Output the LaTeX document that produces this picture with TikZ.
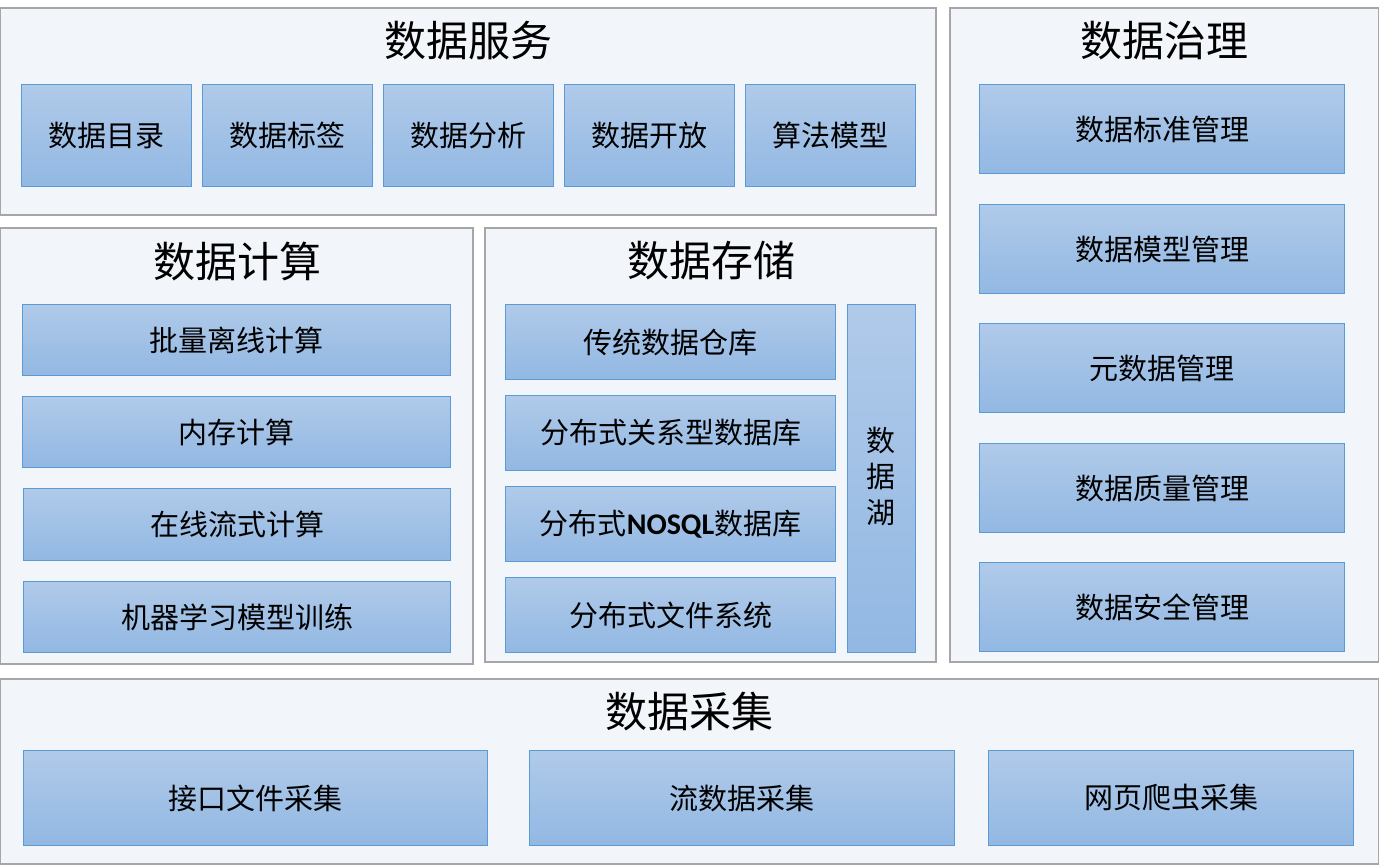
\documentclass[tikz,border=0pt]{standalone}
\usepackage{fontspec}
\setmainfont{Noto Sans CJK SC}
\newfontfamily\calfont{Carlito}
\begin{document}
\begin{tikzpicture}[x=1pt,y=-1pt,
  panel/.style={draw=panelborder,fill=panelfill,line width=1.2pt},
  box/.style={draw=boxborder,line width=1pt,top color=boxtop,bottom color=boxbottom,
    inner sep=0pt,font=\fontsize{29}{32}\selectfont,text=black},
  ttl/.style={font=\fontsize{42}{46}\selectfont,text=black,inner sep=0pt}]
\definecolor{panelborder}{HTML}{A6A6A6}
\definecolor{panelfill}{HTML}{F2F6FA}
\definecolor{boxborder}{HTML}{5B9BD5}
\definecolor{boxtop}{HTML}{B0CAE9}
\definecolor{boxbottom}{HTML}{92B8E3}
\useasboundingbox[fill=white] (0,0) rectangle (1379,865);
% panels
\draw[panel] (0.6,8) rectangle (936,215);
\draw[panel] (950,8) rectangle (1378.4,662);
\draw[panel] (0.6,228) rectangle (473,664);
\draw[panel] (485,228) rectangle (936,662);
\draw[panel] (0.6,679) rectangle (1378.4,864);
% titles
\node[ttl] (tService) at (468,41) {数据服务};
\node[ttl] (tGov) at (1164,41) {数据治理};
\node[ttl] (tComp) at (237,261) {数据计算};
\node[ttl] (tStore) at (711,261) {数据存储};
\node[ttl] (tColl) at (689,712) {数据采集};
% service boxes
\foreach \n/\x/\t in {s1/21/数据目录,s2/202/数据标签,s3/383/数据分析,s4/564/数据开放,s5/745/算法模型}{
  \node[box,anchor=north west,minimum width=170,minimum height=102] (\n) at (\x,84) {\t};
}
% governance
\foreach \n/\y/\t in {g1/84/数据标准管理,g2/204/数据模型管理,g3/323/元数据管理,g4/443/数据质量管理,g5/562/数据安全管理}{
  \node[box,anchor=north west,minimum width=365,minimum height=89] (\n) at (979,\y) {\t};
}
% compute
\node[box,anchor=north west,minimum width=428,minimum height=71] (c1) at (21.5,304) {批量离线计算};
\node[box,anchor=north west,minimum width=428,minimum height=71] (c2) at (22,396) {内存计算};
\node[box,anchor=north west,minimum width=427,minimum height=72] (c3) at (23,488) {在线流式计算};
\node[box,anchor=north west,minimum width=427,minimum height=71] (c4) at (23,581) {机器学习模型训练};
% storage
\node[box,anchor=north west,minimum width=330,minimum height=75] (st1) at (505,304) {传统数据仓库};
\node[box,anchor=north west,minimum width=330,minimum height=75] (st2) at (505,395) {分布式关系型数据库};
\node[box,anchor=north west,minimum width=330,minimum height=75] (st3) at (505,486) {分布式{\calfont\bfseries\fontsize{30}{32}\selectfont NOSQL}数据库};
\node[box,anchor=north west,minimum width=330,minimum height=75] (st4) at (505,577) {分布式文件系统};
\node[box,anchor=north west,minimum width=68,minimum height=348] (lake) at (847,304) {};
\node[font=\fontsize{29}{32}\selectfont,inner sep=0pt] (lk1) at (881,441) {数};
\node[font=\fontsize{29}{32}\selectfont,inner sep=0pt] (lk2) at (881,477) {据};
\node[font=\fontsize{29}{32}\selectfont,inner sep=0pt] (lk3) at (881,513) {湖};
% collection
\node[box,anchor=north west,minimum width=464,minimum height=95] (k1) at (23,750) {接口文件采集};
\node[box,anchor=north west,minimum width=425,minimum height=95] (k2) at (529,750) {流数据采集};
\node[box,anchor=north west,minimum width=365,minimum height=95] (k3) at (988,750) {网页爬虫采集};
\end{tikzpicture}
\end{document}
